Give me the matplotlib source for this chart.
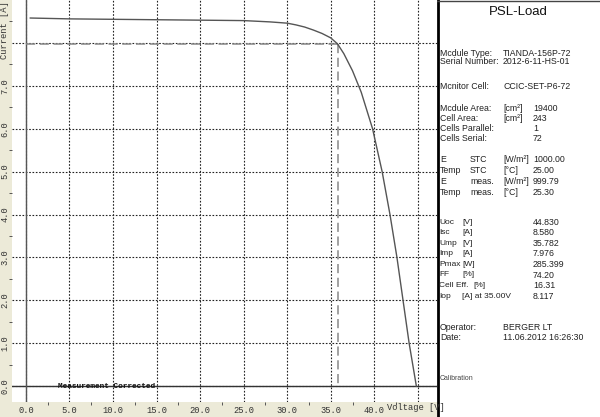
import matplotlib
matplotlib.use("Agg")
import matplotlib.pyplot as plt
from matplotlib.patches import Rectangle

# I-V curve
voltage = [0.5, 5.0, 10.0, 15.0, 20.0, 25.0, 28.0, 30.0, 31.0, 32.0, 33.0, 34.0, 35.0,
           35.782, 36.5, 37.5, 38.5, 39.8, 40.9, 41.8, 42.6, 43.3, 44.0, 44.83]
current = [8.58, 8.56, 8.55, 8.54, 8.53, 8.52, 8.49, 8.46, 8.42, 8.37, 8.30, 8.22, 8.117,
           7.976, 7.75, 7.35, 6.85, 6.0, 5.0, 4.0, 3.0, 2.0, 1.0, 0.0]
v_mp = 35.782
i_mp = 7.976

x_ticks = [0, 5, 10, 15, 20, 25, 30, 35, 40, 45]
x_labels = ["0.0", "5.0", "10.0", "15.0", "20.0", "25.0", "30.0", "35.0", "40.0", ""]
y_ticks = [0, 1, 2, 3, 4, 5, 6, 7, 8]
y_labels = ["0.0", "1.0", "2.0", "3.0", "4.0", "5.0", "6.0", "7.0", ""]

# info panel text
panel_title = "PSL-Load"
module_rows = [
    ("Mcdule Type:", "TIANDA-156P-72"),
    ("Serial Number:", "2012-6-11-HS-01"),
    ("Mcnitor Cell:", "CCIC-SET-P6-72"),
]
area_rows = [
    ("Mcdule Area:", "[cm²]", "19400"),
    ("Cell Area:", "[cm²]", "243"),
    ("Cells Parallel:", "", "1"),
    ("Cells Serial:", "", "72"),
]
cond_rows = [
    ("E", "STC", "[W/m²]", "1000.00"),
    ("Temp", "STC", "[°C]", "25.00"),
    ("E", "meas.", "[W/m²]", "999.79"),
    ("Temp", "meas.", "[°C]", "25.30"),
]
result_rows = [
    ("Uoc", "[V]", "44.830"),
    ("Isc", "[A]", "8.580"),
    ("Ump", "[V]", "35.782"),
    ("Imp", "[A]", "7.976"),
    ("Pmax", "[W]", "285.399"),
    ("FF", "[%]", "74.20"),
    ("Cell Eff.", "[%]", "16.31"),
    ("Iop", "[A] at 35.00V", "8.117"),
]
operator_rows = [
    ("Operator:", "BERGER LT"),
    ("Date:", "11.06.2012 16:26:30"),
]

W, H = 600, 417
bg = "#ecead8"
mono = "Liberation Mono"
sans = "Liberation Sans"

fig = plt.figure(figsize=(W / 100, H / 100), dpi=100, facecolor=bg)
ax = fig.add_axes([12 / W, 15 / H, 425 / W, 402 / H])
ax.set_facecolor("white")
for s in ax.spines.values():
    s.set_visible(False)

ax.set_xlim(-1.6, 47.2)
ax.set_ylim(-0.37, 9.0)

ax.set_xticks(x_ticks, x_labels)
ax.set_yticks(y_ticks, y_labels)
ax.set_xticks([t + 2.5 for t in x_ticks[:-1]], minor=True)
ax.set_yticks([t + 0.5 for t in y_ticks], minor=True)
ax.tick_params(which="major", length=0, labelsize=6.3, colors="#333333")
ax.tick_params(axis="x", which="major", pad=3)
ax.tick_params(axis="y", which="major", pad=2)
ax.tick_params(which="minor", length=2, width=0.7, direction="out", color="#555555")
for lab in ax.get_xticklabels() + ax.get_yticklabels():
    lab.set_family(mono)
for lab in ax.get_yticklabels():
    lab.set_rotation(90)
    lab.set_va("center")

ax.grid(True, which="major", color="#222222", linestyle=(0, (1.5, 1.5)), linewidth=0.8)
ax.set_axisbelow(True)

ax.axhline(0, color="#333333", lw=1.0, zorder=2)
ax.axvline(0, color="#555555", lw=1.0, zorder=2)

ax.plot([0, v_mp], [i_mp, i_mp], color="#888888", lw=1.1, dashes=(6, 3), zorder=3)
ax.plot([v_mp, v_mp], [i_mp, 0], color="#888888", lw=1.1, dashes=(6, 3), zorder=3)
ax.plot(voltage, current, color="#555555", lw=1.0, zorder=4)

ax.text(3.7, 0, "Measurement Corrected", family=mono, fontweight="bold",
        fontsize=5.6, va="center", ha="left", color="#111111", zorder=5)

fig.text(5 / W, 1 - 30 / H, "Current [A]", rotation=90, family=mono, fontsize=6.3,
         ha="center", va="center", color="#333333")
fig.text(387 / W, 1 - 408 / H, "Voltage [V]", family=mono, fontsize=6.3,
         ha="left", va="center", color="#333333")

# info panel on the right
tax = fig.add_axes([437 / W, 0, 163 / W, 1])
tax.set_xlim(437, 600)
tax.set_ylim(H, 0)
tax.axis("off")
tax.add_patch(Rectangle((437, 0), 163, H, facecolor="white", edgecolor="none"))
tax.plot([438, 438], [0, H], color="black", lw=2)
tax.plot([437, 600], [0.5, 0.5], color="#444444", lw=1)

tkw = dict(family=sans, fontsize=6.3, va="center", ha="left", color="#222222")
tax.text(518, 12, panel_title, family=sans, fontsize=9.5, ha="center", va="center",
         color="#111111")

for (label, value), y in zip(module_rows, [53, 61, 86]):
    tax.text(440, y, label, **tkw)
    tax.text(503, y, value, **tkw)

for i, (label, unit, value) in enumerate(area_rows):
    y = 108 + i * 10.3
    tax.text(440, y, label, **tkw)
    tax.text(503, y, unit, **tkw)
    tax.text(533, y, value, **tkw)

for i, (label, kind, unit, value) in enumerate(cond_rows):
    y = 159 + i * 11
    tax.text(440, y, label, **tkw)
    tax.text(470, y, kind, **tkw)
    tax.text(503, y, unit, **tkw)
    tax.text(533, y, value, **tkw)

rkw = dict(tkw, fontsize=6.0)
for i, (label, unit, value) in enumerate(result_rows):
    y = 222 + i * 10.6
    tax.text(439, y, label, **rkw)
    tax.text(473 if label == "Cell Eff." else 462, y, unit, **rkw)
    tax.text(533, y, value, **tkw)

for (label, value), y in zip(operator_rows, [328, 338]):
    tax.text(440, y, label, **tkw)
    tax.text(503, y, value, **tkw)

tax.text(440, 379, "Calibration", family=sans, fontsize=5, va="center", ha="left",
         color="#444444")

fig.savefig("out.png", dpi=100, facecolor=bg)
